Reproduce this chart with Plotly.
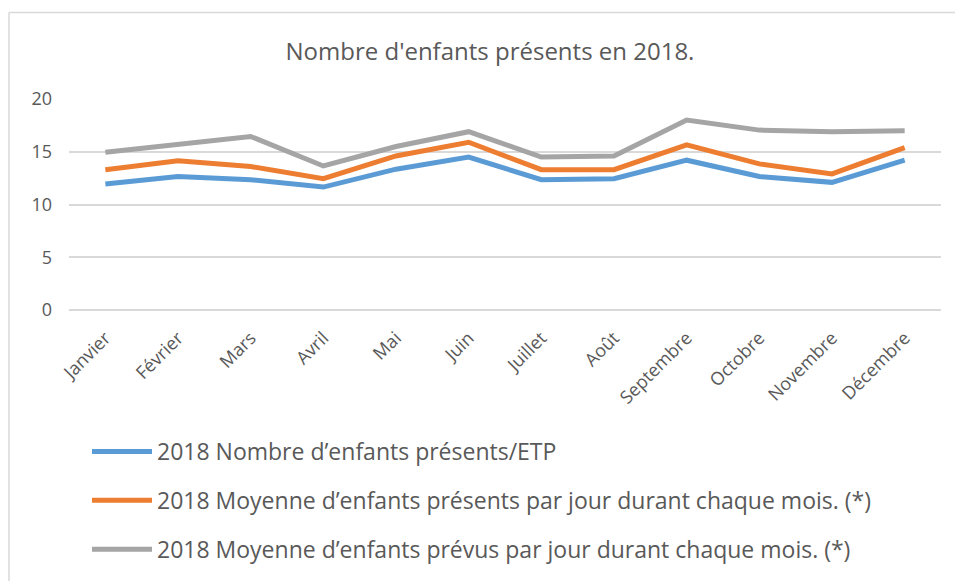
import plotly.graph_objects as go

months = ["Janvier", "Février", "Mars", "Avril", "Mai", "Juin", "Juillet",
          "Août", "Septembre", "Octobre", "Novembre", "Décembre"]
etp = [11.95, 12.65, 12.35, 11.65, 13.35, 14.5, 12.35, 12.45, 14.2, 12.65, 12.1, 14.2]
presents = [13.3, 14.15, 13.6, 12.45, 14.6, 15.9, 13.3, 13.3, 15.65, 13.85, 12.9, 15.4]
prevus = [14.95, 15.7, 16.45, 13.65, 15.5, 16.9, 14.5, 14.6, 18.0, 17.05, 16.9, 17.0]
names = ["2018 Nombre d’enfants présents/ETP",
         "2018 Moyenne d’enfants présents par jour durant chaque mois. (*)",
         "2018 Moyenne d’enfants prévus par jour durant chaque mois. (*)"]
colors = ["#5B9BD5", "#ED7D31", "#A5A5A5"]
y_ticks = [0, 5, 10, 15, 20]

FONT = "Open Sans"
TXT = "#595959"

W, H = 955, 581
L, R, T, B = 69, 14, 99, 270
PW = W - L - R
PH = H - T - B

fig = go.Figure()
for i, (vals, nm, col) in enumerate(zip([etp, presents, prevus], names, colors)):
    fig.add_trace(go.Scatter(
        x=months, y=vals, name=nm, mode="lines",
        line=dict(color=col, width=5),
        legendgroup=f"g{i}",
    ))

border = dict(color="#D9D9D9", width=1.5)
bx0 = (9 - L) / PW
by1 = (T + PH - 12) / PH
fig.update_layout(
    width=W, height=H,
    margin=dict(l=L, r=R, t=T, b=B),
    paper_bgcolor="white", plot_bgcolor="white",
    font=dict(family=FONT, color=TXT),
    title=dict(text="Nombre d'enfants présents en 2018.",
               font=dict(size=24, color=TXT, family=FONT),
               x=(490 - L) / PW, xref="paper", xanchor="center",
               y=1 - 52 / H, yref="container", yanchor="middle"),
    showlegend=True,
    legend=dict(x=(87 - L) / PW, xanchor="left", y=(T + PH - 430) / PH, yanchor="top",
                orientation="v", font=dict(size=23, color=TXT, family=FONT),
                itemwidth=60, tracegroupgap=16, bgcolor="rgba(0,0,0,0)"),
    xaxis=dict(range=[-0.5, 11.5], showgrid=False, showline=False, zeroline=False,
               tickangle=-45, tickfont=dict(size=18, color=TXT, family=FONT),
               ticks="", ticklabelstandoff=13),
    yaxis=dict(range=[0, 20], tickvals=y_ticks, showgrid=True, gridcolor="#D9D9D9",
               gridwidth=1.5, zeroline=True, zerolinecolor="#D9D9D9", zerolinewidth=1.5,
               showline=False, tickfont=dict(size=18, color=TXT, family=FONT),
               ticks="", ticklabelstandoff=16),
    shapes=[
        dict(type="line", xref="paper", yref="paper", x0=bx0, x1=1.2, y0=by1, y1=by1,
             line=border, layer="below"),
        dict(type="line", xref="paper", yref="paper", x0=bx0, x1=bx0, y0=by1, y1=-1.5,
             line=border, layer="below"),
    ],
)

fig.write_html(
    "out.html",
    config={"displayModeBar": False},
    post_script=("document.body.style.margin='0';"
                 "document.documentElement.style.overflow='hidden';"
                 "document.body.style.overflow='hidden';"),
)
